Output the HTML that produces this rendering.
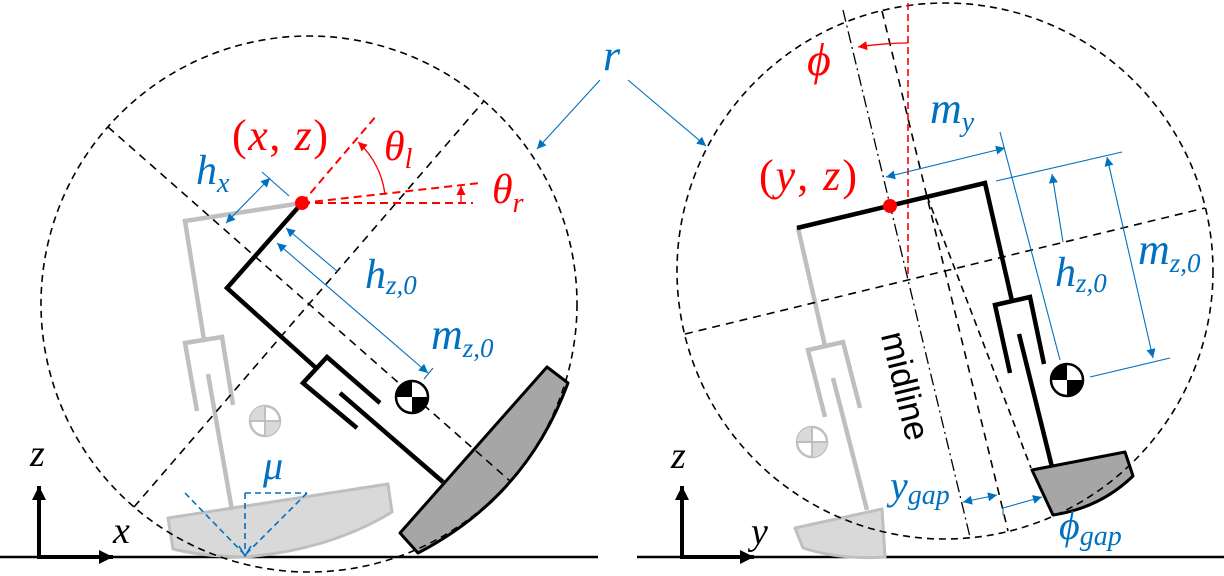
<!DOCTYPE html>
<html><head><meta charset="utf-8"><style>
html,body{margin:0;padding:0;background:#fff;}
svg{display:block;}
.s{font-family:"Liberation Serif","DejaVu Serif","Noto Serif CJK SC","Noto Serif CJK JP",serif;}
.i{font-style:italic;}
</style></head><body>
<svg width="1224" height="576" viewBox="0 0 1224 576" xmlns="http://www.w3.org/2000/svg">
<defs>
<marker id="ab" viewBox="0 0 10 10" refX="10" refY="5" markerWidth="12" markerHeight="9" markerUnits="userSpaceOnUse" orient="auto-start-reverse"><path d="M0,0 L10,5 L0,10 z" fill="#0070c0"/></marker>
<marker id="ar" viewBox="0 0 10 10" refX="10" refY="5" markerWidth="12" markerHeight="9" markerUnits="userSpaceOnUse" orient="auto-start-reverse"><path d="M0,0 L10,5 L0,10 z" fill="#ff0000"/></marker>
<marker id="ak" viewBox="0 0 10 10" refX="10" refY="5" markerWidth="18" markerHeight="14" markerUnits="userSpaceOnUse" orient="auto"><path d="M0,0 L10,5 L0,10 z" fill="#000"/></marker>
</defs>

<!-- ============ LEFT DIAGRAM ============ -->
<line x1="0" y1="557" x2="598" y2="557" stroke="#000" stroke-width="2.5"/>
<line x1="39" y1="559" x2="39" y2="486" stroke="#000" stroke-width="4" marker-end="url(#ak)"/>
<line x1="37" y1="557" x2="113" y2="557" stroke="#000" stroke-width="4" marker-end="url(#ak)"/>
<text x="30" y="466" font-size="38" class="s i">z</text>
<text x="113" y="543" font-size="38" class="s i">x</text>

<path d="M168,518 L388,484 L392,512 Q330,550 245,557 Q200,556 173,549 Z" fill="#d9d9d9" stroke="#bfbfbf" stroke-width="3" stroke-linejoin="round"/>
<g stroke="#bfbfbf" stroke-width="4.5" fill="none">
<polyline points="302,203 185,221 204,340"/>
<polyline points="197,411 185,343 222,337 233,405"/>
<line x1="208" y1="374" x2="232" y2="510"/>
</g>
<circle cx="265" cy="421" r="15" fill="#fff" stroke="#bfbfbf" stroke-width="2.5"/>
<path d="M265,421 L250,421 A15,15 0 0 1 265,406 Z M265,421 L280,421 A15,15 0 0 1 265,436 Z" fill="#d9d9d9"/>
<path d="M250,421 H280 M265,406 V436" stroke="#bfbfbf" stroke-width="2"/>

<g stroke="#0070c0" stroke-width="1.6" fill="none" stroke-dasharray="6,4">
<line x1="245" y1="493" x2="245" y2="553"/>
<line x1="245" y1="493" x2="307" y2="493"/>
<line x1="307" y1="493" x2="246" y2="554"/>
<line x1="185" y1="493" x2="244" y2="554"/>
</g>
<path d="M239,546 L245,556 L251,546" stroke="#0070c0" stroke-width="1.6" fill="none"/>
<text x="263" y="479" font-size="40" fill="#0070c0" class="s i">μ</text>

<path d="M400,533 L547,367 L568,383 Q526,497 418,553 Z" fill="#a6a6a6" stroke="#000" stroke-width="3" stroke-linejoin="round"/>

<circle cx="309" cy="304" r="268" fill="none" stroke="#000" stroke-width="1.6" stroke-dasharray="7,5"/>
<line x1="134" y1="507" x2="484" y2="101" stroke="#000" stroke-width="1.6" stroke-dasharray="8,6"/>
<line x1="108" y1="127" x2="510" y2="481" stroke="#000" stroke-width="1.6" stroke-dasharray="8,6"/>

<g stroke="#000" stroke-width="4.5" fill="none">
<polyline points="302,203 227,288 315,367"/>
<polyline points="357,428 303,383 327,357 380,403"/>
<line x1="340" y1="393" x2="443" y2="482"/>
</g>
<circle cx="412" cy="397" r="16" fill="#fff" stroke="#000" stroke-width="2.5"/>
<path d="M412,397 L396,397 A16,16 0 0 1 412,381 Z M412,397 L428,397 A16,16 0 0 1 412,413 Z" fill="#000"/>

<g stroke="#0070c0" stroke-width="1.1" fill="none">
<line x1="226" y1="223" x2="270" y2="178" marker-start="url(#ab)" marker-end="url(#ab)"/>
<line x1="262" y1="172" x2="289" y2="196"/>
<line x1="338" y1="272" x2="286" y2="228" marker-end="url(#ab)"/>
<line x1="277" y1="243" x2="428" y2="373" marker-start="url(#ab)" marker-end="url(#ab)"/>
<line x1="424" y1="379" x2="433" y2="368"/>
<line x1="600" y1="80" x2="537" y2="149" marker-end="url(#ab)"/>
<line x1="628" y1="80" x2="706" y2="146" marker-end="url(#ab)"/>
</g>

<g stroke="#ff0000" stroke-width="2" fill="none" stroke-dasharray="8,5">
<line x1="302" y1="203" x2="473" y2="203"/>
<line x1="302" y1="203" x2="480" y2="183"/>
<line x1="302" y1="203" x2="377" y2="115"/>
</g>
<line x1="461" y1="203" x2="461" y2="186" stroke="#ff0000" stroke-width="1.3" marker-end="url(#ar)"/>
<path d="M385,195 A84,84 0 0 0 358,142" stroke="#ff0000" stroke-width="1.3" fill="none" marker-end="url(#ar)"/>
<circle cx="302" cy="203" r="7" fill="#ff0000"/>

<text x="232" y="150" font-size="44" fill="#ff0000" textLength="96" lengthAdjust="spacing" class="s">(<tspan class="i">x</tspan>, <tspan class="i">z</tspan>)</text>
<text x="384" y="160" font-size="42" fill="#ff0000" class="s i">θ<tspan font-size="28" dy="8">l</tspan></text>
<text x="492" y="203" font-size="42" fill="#ff0000" class="s i">θ<tspan font-size="28" dy="9">r</tspan></text>
<text x="196" y="184" font-size="42" fill="#0070c0" class="s i">h<tspan font-size="28" dy="8">x</tspan></text>
<text x="365" y="288" font-size="42" fill="#0070c0" class="s i">h<tspan font-size="27" dy="6">z,0</tspan></text>
<text x="431" y="349" font-size="44" fill="#0070c0" class="s i">m<tspan font-size="27" dy="8">z,0</tspan></text>
<text x="603" y="70" font-size="44" fill="#0070c0" class="s i">r</text>

<!-- ============ RIGHT DIAGRAM ============ -->
<line x1="637" y1="557" x2="1224" y2="557" stroke="#000" stroke-width="2.5"/>
<line x1="682" y1="559" x2="682" y2="486" stroke="#000" stroke-width="4" marker-end="url(#ak)"/>
<line x1="680" y1="557" x2="754" y2="557" stroke="#000" stroke-width="4" marker-end="url(#ak)"/>
<text x="671" y="468" font-size="38" class="s i">z</text>
<text x="751" y="544" font-size="38" class="s i">y</text>

<path d="M795,528 L882,509 L885,557 Q840,560 803,548 Z" fill="#d9d9d9" stroke="#bfbfbf" stroke-width="3" stroke-linejoin="round"/>
<g stroke="#bfbfbf" stroke-width="4.5" fill="none">
<line x1="798" y1="228" x2="825" y2="346"/>
<polyline points="825,417 808,350 843,342 860,408"/>
<line x1="833" y1="378" x2="867" y2="510"/>
</g>
<circle cx="812" cy="442" r="15" fill="#fff" stroke="#bfbfbf" stroke-width="2.5"/>
<path d="M812,442 L797,442 A15,15 0 0 1 812,427 Z M812,442 L827,442 A15,15 0 0 1 812,457 Z" fill="#d9d9d9"/>
<path d="M797,442 H827 M812,427 V457" stroke="#bfbfbf" stroke-width="2"/>

<path d="M1032,470 L1125,452 L1133,476 Q1100,508 1053,515 Z" fill="#a6a6a6" stroke="#000" stroke-width="3" stroke-linejoin="round"/>

<circle cx="945" cy="271" r="268" fill="none" stroke="#000" stroke-width="1.6" stroke-dasharray="7,5"/>
<line x1="685" y1="334" x2="1205" y2="208" stroke="#000" stroke-width="1.6" stroke-dasharray="8,6"/>
<line x1="882" y1="11" x2="1008" y2="531" stroke="#000" stroke-width="1.6" stroke-dasharray="8,6"/>
<line x1="927" y1="196" x2="1031" y2="468" stroke="#000" stroke-width="1.6" stroke-dasharray="7,5"/>
<line x1="843" y1="10" x2="970" y2="537" stroke="#000" stroke-width="1.3" stroke-dasharray="12,4,2,4"/>
<line x1="908" y1="3" x2="908" y2="278" stroke="#ff0000" stroke-width="1.6" stroke-dasharray="7,4"/>

<g stroke="#000" stroke-width="4.5" fill="none">
<polyline points="797,228 985,183 1012,301"/>
<polyline points="1010,373 995,305 1030,297 1044,364"/>
<line x1="1019" y1="334" x2="1052" y2="467"/>
</g>
<circle cx="1067" cy="380" r="16" fill="#fff" stroke="#000" stroke-width="2.5"/>
<path d="M1067,380 L1051,380 A16,16 0 0 1 1067,364 Z M1067,380 L1083,380 A16,16 0 0 1 1067,396 Z" fill="#000"/>

<g stroke="#0070c0" stroke-width="1.1" fill="none">
<line x1="886" y1="177" x2="1005" y2="148" marker-start="url(#ab)" marker-end="url(#ab)"/>
<line x1="1000" y1="132" x2="1060" y2="360"/>
<line x1="996" y1="181" x2="1122" y2="152"/>
<line x1="1063" y1="242" x2="1052" y2="174" marker-end="url(#ab)"/>
<line x1="1107" y1="157" x2="1153" y2="358" marker-start="url(#ab)" marker-end="url(#ab)"/>
<line x1="1090" y1="377" x2="1170" y2="358"/>
<line x1="963" y1="502" x2="997" y2="495" marker-start="url(#ab)" marker-end="url(#ab)"/>
<polyline points="1003,515 1003,508 1042,497" marker-end="url(#ab)"/>
</g>

<path d="M908,43 Q884,43 858,47" stroke="#ff0000" stroke-width="1.3" fill="none" marker-end="url(#ar)"/>
<circle cx="890" cy="206" r="7" fill="#ff0000"/>

<text x="807" y="75" font-size="46" fill="#ff0000" class="s i">ϕ</text>
<text x="759" y="190" font-size="44" fill="#ff0000" textLength="98" lengthAdjust="spacing" class="s">(<tspan class="i">y</tspan>, <tspan class="i">z</tspan>)</text>
<text x="930" y="123" font-size="44" fill="#0070c0" class="s i">m<tspan font-size="28" dy="8">y</tspan></text>
<text x="1055" y="286" font-size="42" fill="#0070c0" class="s i">h<tspan font-size="27" dy="6">z,0</tspan></text>
<text x="1138" y="264" font-size="44" fill="#0070c0" class="s i">m<tspan font-size="27" dy="8">z,0</tspan></text>
<text x="890" y="499" font-size="40" fill="#0070c0" class="s i">y<tspan font-size="28" dy="5">gap</tspan></text>
<text x="1059" y="539" font-size="40" fill="#0070c0" class="s i">ϕ<tspan font-size="28" dy="6">gap</tspan></text>
<text transform="translate(905,386) rotate(76.4)" text-anchor="middle" dominant-baseline="central" font-size="35" style="font-family:'Liberation Sans','DejaVu Sans',sans-serif">midline</text>
</svg>
</body></html>
